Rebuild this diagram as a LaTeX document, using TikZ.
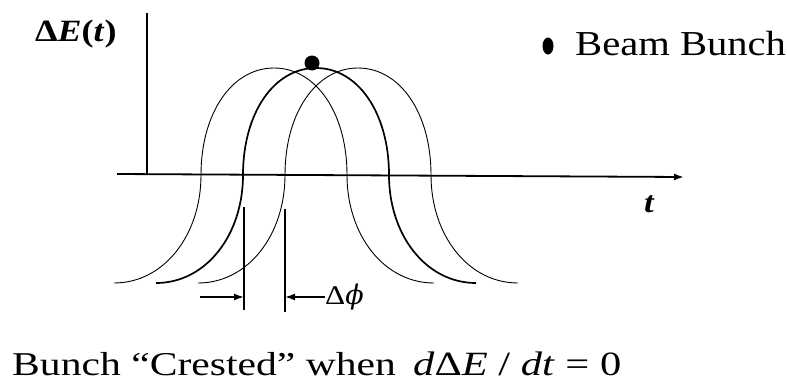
\documentclass[tikz,border=0pt]{standalone}
\usepackage{fontspec}
\setmainfont{Liberation Serif}[FakeStretch=1.16]
\newfontfamily\capfont{Liberation Serif}[FakeStretch=1.25]
\newfontfamily\phifont{DejaVu Serif}
\usetikzlibrary{arrows.meta,shapes.geometric}
\begin{document}
\begin{tikzpicture}[x=1pt,y=-1pt,
  thinbell/.style={line width=0.9pt},
  thickbell/.style={line width=1.7pt},
  axisline/.style={line width=1.8pt},
  markline/.style={line width=1.5pt},
  tipped/.style={-{Latex[length=10pt,width=7pt]}},
  bell/.pic={\draw[pic actions] (-160,283) .. controls (-110,283) and (-73,235) .. (-73,175)
      .. controls (-73,113) and (-42,68) .. (0,68)
      .. controls (42,68) and (73,113) .. (73,175)
      .. controls (73,235) and (110,283) .. (160,283);},
  lbl/.style={inner sep=0pt, anchor=base west}]
\useasboundingbox (0,0) rectangle (787,386);
% axes
\coordinate (xs) at (117,174);
\coordinate (xe) at (684,177);
\coordinate (ys) at (147,175);
\coordinate (ye) at (147,13);
\draw[axisline,tipped] (xs) -- (xe);
\draw[axisline] (ys) -- (ye);
\node[lbl] (elabel) at (35,41) {\fontsize{31}{33}\selectfont\bfseries Δ\textit{E}(\textit{t})};
\node[lbl] (tlabel) at (644,212) {\fontsize{30}{32}\selectfont\bfseries\itshape t};
% bells
\pic[thinbell] at (274,0) {bell};
\pic[thickbell] at (316,0) {bell};
\pic[thinbell] at (358,0) {bell};
% bunch
\node[circle, fill, inner sep=0pt, minimum size=15pt] (bunch) at (312,63) {};
% legend
\node[ellipse, fill, inner sep=0pt, minimum width=11pt, minimum height=17pt] (legdot) at (548,46) {};
\node[lbl] (legtext) at (575,55) {\fontsize{35}{38}\selectfont Beam Bunch};
% delta phi marks
\coordinate (l1t) at (244,207);
\coordinate (l1b) at (244,310);
\coordinate (l2t) at (285,209);
\coordinate (l2b) at (285,312);
\draw[markline] (l1t) -- (l1b);
\draw[markline] (l2t) -- (l2b);
\coordinate (a1s) at (200,297);
\coordinate (a1e) at (244,297);
\coordinate (a2e) at (285,297);
\node[lbl] (dphi) at (325,304) {\fontsize{27}{29}\selectfont Δ{\phifont\itshape ϕ}};
\draw[markline,tipped] (dphi.west |- a2e) -- (a2e);
\draw[markline,tipped] (a1s) -- (a1e);
% caption
\node[lbl] (cap) at (12,375) {\fontsize{33.3}{36}\selectfont\capfont Bunch “Crested” when};
\node[lbl] (eq) at (413,375) {\fontsize{34}{36}\selectfont\capfont\textit{d}Δ\textit{E} / \textit{dt} = 0};
\end{tikzpicture}
\end{document}
